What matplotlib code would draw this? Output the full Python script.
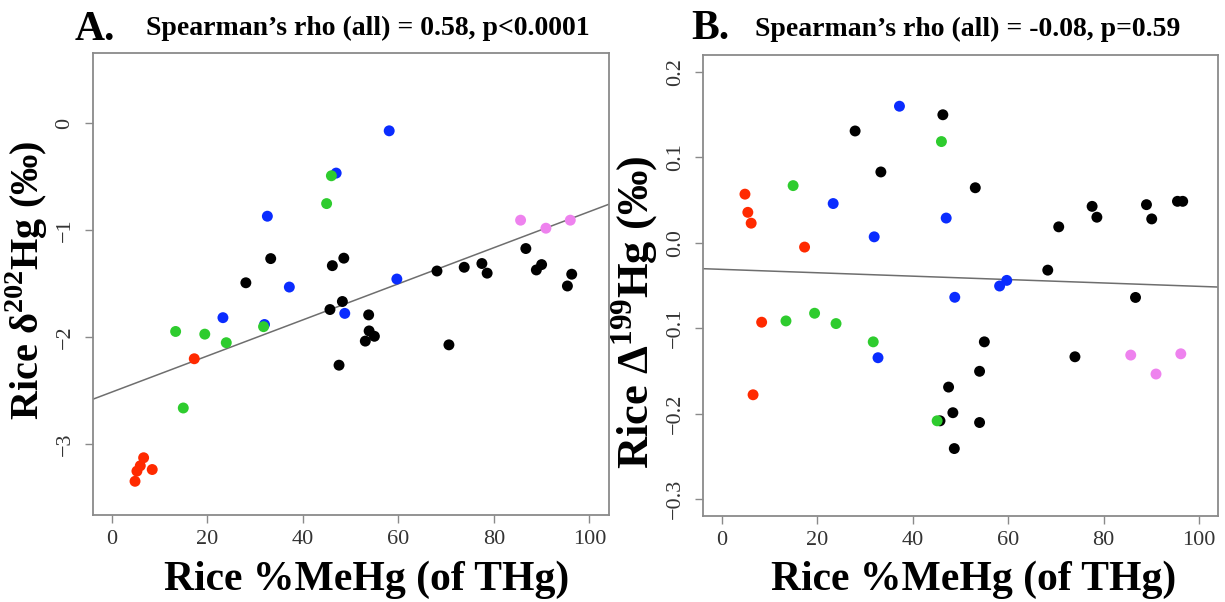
import matplotlib
matplotlib.use("Agg")
import matplotlib.pyplot as plt

# ---------------- data ----------------
# Panel A: Rice %MeHg vs Rice d202Hg
A_red_x = [4.9, 5.3, 6.0, 6.7, 8.5, 17.3]
A_red_y = [-3.345, -3.25, -3.20, -3.125, -3.235, -2.20]
A_green_x = [13.4, 15.0, 19.5, 24.0, 31.8, 45.0, 46.0]
A_green_y = [-1.945, -2.66, -1.97, -2.05, -1.90, -0.75, -0.49]
A_blue_x = [23.3, 32.0, 32.6, 37.2, 47.0, 48.8, 58.1, 59.7]
A_blue_y = [-1.816, -1.88, -0.868, -1.53, -0.465, -1.776, -0.07, -1.455]
A_violet_x = [85.6, 90.9, 96.0]
A_violet_y = [-0.905, -0.98, -0.905]
A_black_x = [28.1, 33.3, 46.2, 48.6, 48.3, 45.7, 53.8, 53.9, 55.0, 53.1, 70.6,
             47.6, 68.1, 73.8, 77.5, 78.6, 86.7, 90.0, 88.9, 96.3, 95.4]
A_black_y = [-1.49, -1.264, -1.33, -1.26, -1.665, -1.74, -1.79, -1.94, -1.99, -2.035, -2.07,
             -2.26, -1.38, -1.345, -1.31, -1.40, -1.17, -1.32, -1.37, -1.41, -1.52]
A_fit = (-2.512, 0.01687)          # intercept, slope of the drawn line

# Panel B: Rice %MeHg vs Rice D199Hg
B_red_x = [4.8, 5.4, 6.1, 17.3, 8.3, 6.5]
B_red_y = [0.057, 0.0357, 0.023, -0.005, -0.093, -0.178]
B_green_x = [14.9, 46.0, 13.4, 19.4, 23.9, 31.7, 45.1]
B_green_y = [0.067, 0.1186, -0.0915, -0.0825, -0.0946, -0.116, -0.2085]
B_blue_x = [37.2, 23.3, 47.0, 31.9, 59.7, 58.2, 48.8, 32.7]
B_blue_y = [0.160, 0.046, 0.029, 0.007, -0.044, -0.0506, -0.0638, -0.1346]
B_violet_x = [85.7, 91.0, 96.2]
B_violet_y = [-0.1315, -0.1537, -0.130]
B_black_x = [27.9, 46.3, 33.3, 53.1, 77.6, 78.6, 89.0, 90.1, 95.5, 96.6, 70.6,
             68.3, 86.7, 55.0, 74.0, 54.0, 47.5, 48.4, 45.7, 54.0, 48.7]
B_black_y = [0.131, 0.150, 0.083, 0.0645, 0.0427, 0.030, 0.0447, 0.028, 0.0486, 0.0486, 0.0187,
             -0.032, -0.064, -0.116, -0.1335, -0.1505, -0.169, -0.199, -0.2085, -0.2105, -0.241]
B_fit = (-0.0311, -0.000199)

x_ticks = [0, 20, 40, 60, 80, 100]
A_yticks = [-3, -2, -1, 0]
A_yticklabels = ["\u22123", "\u22122", "\u22121", "0"]
B_yticks = [-0.3, -0.2, -0.1, 0.0, 0.1, 0.2]
B_yticklabels = ["\u22120.3", "\u22120.2", "\u22120.1", "0.0", "0.1", "0.2"]

titles = ["Spearman\u2019s rho (all) = 0.58, p<0.0001",
          "Spearman\u2019s rho (all) = -0.08, p=0.59"]
panel_letters = ["A.", "B."]
xlabel = "Rice %MeHg (of THg)"
ylabels = ["Rice \u03b4$^{\\mathbf{202}}$Hg (\u2030)",
           "Rice \u0394$^{\\mathbf{199}}$Hg (\u2030)"]

colors = {"black": "#000000", "red": "#ff2a00", "blue": "#0a2cff",
          "green": "#2ecc2e", "violet": "#ee82ee"}

# ---------------- style ----------------
plt.rcParams["font.family"] = ["Liberation Serif", "DejaVu Serif"]
plt.rcParams["mathtext.fontset"] = "custom"
plt.rcParams["mathtext.rm"] = "Liberation Serif"
plt.rcParams["mathtext.bf"] = "Liberation Serif:bold"

W, H = 1225, 602
fig = plt.figure(figsize=(W / 100, H / 100), dpi=100)


def px_axes(l, r, t, b):
    return [l / W, 1 - b / H, (r - l) / W, (b - t) / H]


boxes = [(92.5, 608.5, 52.7, 515), (703, 1218, 55, 516)]
axA = fig.add_axes(px_axes(*boxes[0]))
axB = fig.add_axes(px_axes(*boxes[1]))

ms = 62
panels = [
    (axA, [("black", A_black_x, A_black_y), ("red", A_red_x, A_red_y),
           ("blue", A_blue_x, A_blue_y), ("green", A_green_x, A_green_y),
           ("violet", A_violet_x, A_violet_y)], A_fit, (-3.5, 0.5),
     A_yticks, A_yticklabels),
    (axB, [("black", B_black_x, B_black_y), ("red", B_red_x, B_red_y),
           ("blue", B_blue_x, B_blue_y), ("green", B_green_x, B_green_y),
           ("violet", B_violet_x, B_violet_y)], B_fit, (-0.3, 0.2),
     B_yticks, B_yticklabels),
]

# label placement (pixel positions in the figure)
xlabel_cx = [367, 974]
xlabel_base = 590
ylabel_right = [50, 661]
ylabel_cy = [280, 312]
ylabel_size = [29, 32]

for i, (ax, series, fit, ylim, yt, ytl) in enumerate(panels):
    l, r, t, b = boxes[i]
    for name, xs, ys in series:
        ax.scatter(xs, ys, s=ms, color=colors[name], edgecolors="none", zorder=3)
    ax.axline((0, fit[0]), slope=fit[1], color="#6e6e6e", lw=1.1, zorder=2)
    xr = 100 - 0
    ax.set_xlim(0 - 0.04 * xr, 100 + 0.04 * xr)
    yr = ylim[1] - ylim[0]
    ax.set_ylim(ylim[0] - 0.04 * yr, ylim[1] + 0.04 * yr)
    ax.set_xticks(x_ticks)
    ax.set_xticklabels([str(tk) for tk in x_ticks])
    ax.set_yticks(yt)
    ax.set_yticklabels(ytl, rotation=90, va="center")
    for sp in ax.spines.values():
        sp.set_color("#8a8a8a")
        sp.set_linewidth(1.3)
    ax.tick_params(axis="both", direction="out", length=6, width=1.0,
                   colors="#8a8a8a", labelcolor="#333333", labelsize=16)
    ax.tick_params(axis="x", pad=5)
    ax.tick_params(axis="y", pad=7)
    ax.set_xlabel(xlabel, fontsize=30, fontweight="bold")
    ax.xaxis.label.set_va("baseline")
    ax.xaxis.set_label_coords((xlabel_cx[i] - l) / (r - l), (b - xlabel_base) / (b - t))
    ax.set_ylabel(ylabels[i], fontsize=ylabel_size[i], fontweight="bold")
    ax.yaxis.set_label_coords((ylabel_right[i] - l) / (r - l), (b - ylabel_cy[i]) / (b - t))

# titles and panel letters
fig.text(75 / W, 1 - 39.5 / H, panel_letters[0], fontsize=30, fontweight="bold",
         ha="left", va="baseline")
fig.text(146 / W, 1 - 35 / H, titles[0], fontsize=20, fontweight="bold",
         ha="left", va="baseline")
fig.text(691 / W, 1 - 39 / H, panel_letters[1], fontsize=30, fontweight="bold",
         ha="left", va="baseline")
fig.text(755 / W, 1 - 36 / H, titles[1], fontsize=20, fontweight="bold",
         ha="left", va="baseline")

fig.savefig("out.png", dpi=100, facecolor="white")
